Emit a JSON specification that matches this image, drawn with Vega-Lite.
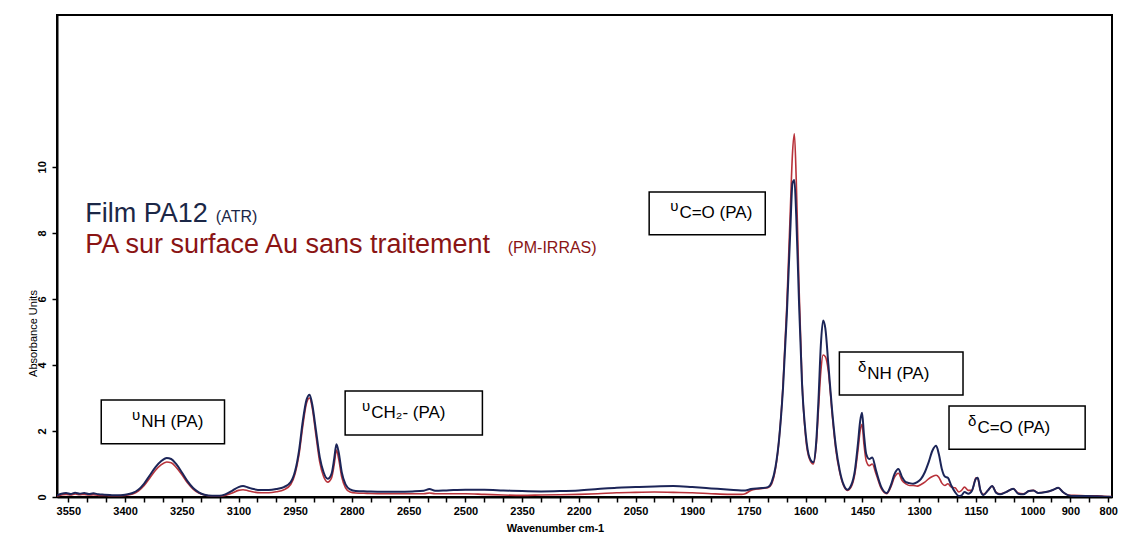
{
  "$schema": "https://vega.github.io/schema/vega-lite/v6.json",
  "width": 1055,
  "height": 482,
  "autosize": {"type": "none"},
  "padding": {"left": 57, "top": 15, "right": 13, "bottom": 38},
  "background": "white",
  "config": {
    "view": {"stroke": "black", "strokeWidth": 2},
    "axis": {"grid": false, "labelOverlap": false, "labelFlush": false, "domainColor": "black", "domainWidth": 2, "tickColor": "black", "tickWidth": 1.5, "tickSize": 5, "labelColor": "black", "titleColor": "black", "labelFont": "Liberation Sans", "titleFont": "Liberation Sans"}
  },
  "datasets": {
    "spec": [
      {"w":3580,"b":0.05,"r":0.03},{"w":3568,"b":0.10,"r":0.06},{"w":3556,"b":0.12,"r":0.08},{"w":3544,"b":0.09,"r":0.06},
      {"w":3532,"b":0.13,"r":0.09},{"w":3520,"b":0.10,"r":0.07},{"w":3508,"b":0.12,"r":0.08},{"w":3496,"b":0.09,"r":0.06},
      {"w":3484,"b":0.11,"r":0.07},{"w":3470,"b":0.08,"r":0.05},{"w":3455,"b":0.07,"r":0.05},{"w":3440,"b":0.06,"r":0.04},
      {"w":3420,"b":0.05,"r":0.04},{"w":3400,"b":0.07,"r":0.05},{"w":3380,"b":0.12,"r":0.09},{"w":3365,"b":0.22,"r":0.18},
      {"w":3350,"b":0.40,"r":0.34},{"w":3335,"b":0.65,"r":0.57},{"w":3320,"b":0.90,"r":0.80},{"w":3305,"b":1.08,"r":0.97},
      {"w":3290,"b":1.18,"r":1.06},{"w":3278,"b":1.15,"r":1.04},{"w":3265,"b":1.00,"r":0.90},{"w":3250,"b":0.75,"r":0.68},
      {"w":3235,"b":0.48,"r":0.43},{"w":3220,"b":0.27,"r":0.24},{"w":3205,"b":0.14,"r":0.12},{"w":3190,"b":0.07,"r":0.06},
      {"w":3170,"b":0.04,"r":0.03},{"w":3150,"b":0.04,"r":0.03},{"w":3135,"b":0.08,"r":0.05},{"w":3118,"b":0.18,"r":0.11},
      {"w":3100,"b":0.30,"r":0.20},{"w":3088,"b":0.33,"r":0.22},{"w":3075,"b":0.29,"r":0.19},{"w":3060,"b":0.24,"r":0.15},
      {"w":3040,"b":0.21,"r":0.13},{"w":3020,"b":0.21,"r":0.13},{"w":3000,"b":0.24,"r":0.16},{"w":2980,"b":0.30,"r":0.22},
      {"w":2962,"b":0.45,"r":0.38},{"w":2950,"b":0.80,"r":0.72},{"w":2940,"b":1.40,"r":1.28},{"w":2930,"b":2.30,"r":2.15},
      {"w":2920,"b":2.95,"r":2.85},{"w":2912,"b":3.10,"r":3.00},{"w":2905,"b":2.80,"r":2.70},{"w":2895,"b":2.00,"r":1.85},
      {"w":2885,"b":1.20,"r":1.05},{"w":2875,"b":0.75,"r":0.62},{"w":2864,"b":0.55,"r":0.45},{"w":2854,"b":0.70,"r":0.58},
      {"w":2847,"b":1.15,"r":0.98},{"w":2841,"b":1.60,"r":1.42},{"w":2835,"b":1.35,"r":1.15},{"w":2827,"b":0.75,"r":0.60},
      {"w":2817,"b":0.38,"r":0.28},{"w":2805,"b":0.23,"r":0.15},{"w":2790,"b":0.18,"r":0.12},{"w":2760,"b":0.17,"r":0.11},
      {"w":2720,"b":0.16,"r":0.10},{"w":2680,"b":0.16,"r":0.10},{"w":2640,"b":0.17,"r":0.10},{"w":2610,"b":0.19,"r":0.10},
      {"w":2595,"b":0.24,"r":0.12},{"w":2580,"b":0.19,"r":0.10},{"w":2550,"b":0.20,"r":0.10},{"w":2500,"b":0.22,"r":0.10},
      {"w":2450,"b":0.22,"r":0.08},{"w":2400,"b":0.20,"r":0.06},{"w":2350,"b":0.18,"r":0.05},{"w":2300,"b":0.17,"r":0.06},
      {"w":2250,"b":0.18,"r":0.07},{"w":2200,"b":0.20,"r":0.08},{"w":2150,"b":0.24,"r":0.10},{"w":2100,"b":0.28,"r":0.13},
      {"w":2050,"b":0.30,"r":0.14},{"w":2000,"b":0.32,"r":0.15},{"w":1950,"b":0.33,"r":0.14},{"w":1900,"b":0.30,"r":0.13},
      {"w":1850,"b":0.26,"r":0.10},{"w":1800,"b":0.22,"r":0.08},{"w":1770,"b":0.20,"r":0.08},{"w":1760,"b":0.20,"r":0.10},
      {"w":1745,"b":0.24,"r":0.20},{"w":1730,"b":0.26,"r":0.24},{"w":1715,"b":0.27,"r":0.26},{"w":1700,"b":0.30,"r":0.28},
      {"w":1690,"b":0.45,"r":0.40},{"w":1680,"b":0.90,"r":0.85},{"w":1670,"b":1.80,"r":1.80},{"w":1660,"b":3.30,"r":3.40},
      {"w":1650,"b":5.50,"r":5.80},{"w":1641,"b":8.00,"r":8.60},{"w":1635,"b":9.50,"r":10.40},{"w":1630,"b":9.60,"r":11.00},
      {"w":1625,"b":8.50,"r":9.60},{"w":1618,"b":6.00,"r":6.50},{"w":1610,"b":3.50,"r":3.60},{"w":1600,"b":1.90,"r":1.80},
      {"w":1590,"b":1.20,"r":1.15},{"w":1580,"b":1.05,"r":1.00},{"w":1572,"b":1.70,"r":1.60},{"w":1566,"b":3.00,"r":2.70},
      {"w":1560,"b":4.60,"r":3.80},{"w":1554,"b":5.35,"r":4.30},{"w":1548,"b":5.10,"r":4.25},{"w":1540,"b":4.00,"r":3.80},
      {"w":1530,"b":2.60,"r":2.50},{"w":1520,"b":1.50,"r":1.40},{"w":1510,"b":0.80,"r":0.75},{"w":1500,"b":0.38,"r":0.35},
      {"w":1490,"b":0.22,"r":0.20},{"w":1480,"b":0.35,"r":0.30},{"w":1470,"b":0.80,"r":0.70},{"w":1462,"b":1.60,"r":1.40},
      {"w":1456,"b":2.30,"r":2.00},{"w":1451,"b":2.55,"r":2.20},{"w":1446,"b":1.90,"r":1.60},{"w":1440,"b":1.30,"r":1.10},
      {"w":1432,"b":1.15,"r":0.95},{"w":1424,"b":1.20,"r":1.00},{"w":1414,"b":0.80,"r":0.70},{"w":1400,"b":0.30,"r":0.25},
      {"w":1386,"b":0.12,"r":0.10},{"w":1375,"b":0.35,"r":0.30},{"w":1365,"b":0.70,"r":0.60},{"w":1355,"b":0.85,"r":0.72},
      {"w":1345,"b":0.60,"r":0.50},{"w":1335,"b":0.45,"r":0.40},{"w":1325,"b":0.42,"r":0.35},{"w":1316,"b":0.40,"r":0.35},
      {"w":1305,"b":0.45,"r":0.33},{"w":1295,"b":0.55,"r":0.38},{"w":1285,"b":0.75,"r":0.45},{"w":1275,"b":1.05,"r":0.55},
      {"w":1265,"b":1.40,"r":0.62},{"w":1255,"b":1.55,"r":0.66},{"w":1248,"b":1.30,"r":0.60},{"w":1240,"b":0.85,"r":0.42},
      {"w":1232,"b":0.62,"r":0.35},{"w":1224,"b":0.58,"r":0.40},{"w":1215,"b":0.35,"r":0.30},{"w":1205,"b":0.15,"r":0.28},
      {"w":1195,"b":0.03,"r":0.15},{"w":1188,"b":0.05,"r":0.20},{"w":1180,"b":0.15,"r":0.30},{"w":1170,"b":0.10,"r":0.20},
      {"w":1160,"b":0.20,"r":0.20},{"w":1150,"b":0.55,"r":0.58},{"w":1145,"b":0.58,"r":0.55},{"w":1138,"b":0.20,"r":0.20},
      {"w":1130,"b":0.06,"r":0.08},{"w":1118,"b":0.20,"r":0.20},{"w":1107,"b":0.33,"r":0.33},{"w":1096,"b":0.12,"r":0.14},
      {"w":1086,"b":0.08,"r":0.10},{"w":1070,"b":0.15,"r":0.15},{"w":1051,"b":0.25,"r":0.25},{"w":1038,"b":0.10,"r":0.12},
      {"w":1025,"b":0.08,"r":0.10},{"w":1010,"b":0.18,"r":0.18},{"w":998,"b":0.20,"r":0.20},{"w":985,"b":0.12,"r":0.13},
      {"w":965,"b":0.15,"r":0.15},{"w":945,"b":0.22,"r":0.22},{"w":932,"b":0.28,"r":0.28},{"w":920,"b":0.15,"r":0.15},
      {"w":905,"b":0.05,"r":0.06},{"w":890,"b":0.03,"r":0.05},{"w":860,"b":0.03,"r":0.04},{"w":830,"b":0.02,"r":0.04},
      {"w":810,"b":0.01,"r":0.02},{"w":790,"b":0.00,"r":0.01}
    ],
    "boxes": [
      {"w":3463,"w2":3137,"v":2.94,"v2":1.61},
      {"w":2818,"w2":2455,"v":3.21,"v2":1.88},
      {"w":2014,"w2":1707,"v":9.24,"v2":7.94},
      {"w":1511,"w2":1184,"v":4.39,"v2":3.09},
      {"w":1221,"w2":861,"v":2.76,"v2":1.45}
    ],
    "boxtext": [
      {"w":3357,"v":2.27,"t":"NH (PA)","s":"υ"},
      {"w":2749,"v":2.55,"t":"CH₂- (PA)","s":"υ"},
      {"w":1934,"v":8.61,"t":"C=O (PA)","s":"υ"},
      {"w":1437,"v":3.73,"t":"NH (PA)","s":"δ"},
      {"w":1146,"v":2.09,"t":"C=O (PA)","s":"δ"}
    ],
    "legend_big": [
      {"w":3505,"v":8.33,"t":"Film PA12","c":"ATR"},
      {"w":3505,"v":7.39,"t":"PA sur surface Au sans traitement","c":"PM"}
    ],
    "legend_small": [
      {"w":3160,"v":8.33,"t":"(ATR)","c":"ATR"},
      {"w":2388,"v":7.39,"t":"(PM-IRRAS)","c":"PM"}
    ]
  },
  "encoding": {
    "x": {"field": "w", "type": "quantitative", "title": "Wavenumber cm-1", "scale": {"domain": [790, 3580], "reverse": true, "nice": false, "zero": false},
      "axis": {"values": [800,850,900,950,1000,1050,1100,1150,1200,1250,1300,1350,1400,1450,1500,1550,1600,1650,1700,1750,1800,1850,1900,1950,2000,2050,2100,2150,2200,2250,2300,2350,2400,2450,2500,2550,2600,2650,2700,2750,2800,2850,2900,2950,3000,3050,3100,3150,3200,3250,3300,3350,3400,3450,3500,3550],
        "format": "d",
        "labelExpr": "((3550 - datum.value) % 150 == 0 && datum.value >= 1000) || datum.value == 900 || datum.value == 800 ? datum.label : ''",
        "labelOverlap": false, "labelFlush": false, "labelFontSize": 11, "labelFontWeight": "bold", "labelPadding": 3,
        "titleFontSize": 11, "titleFontWeight": "bold", "titleX": 498, "titleY": 34, "titleBaseline": "alphabetic", "titleAlign": "center"}},
    "y": {"field": "v", "type": "quantitative", "title": "Absorbance Units", "scale": {"domain": [0, 14.6], "nice": false, "zero": false},
      "axis": {"values": [0,2,4,6,8,10], "labelAngle": 270, "labelFontSize": 11, "labelFontWeight": "bold", "labelPadding": 5,
        "titleFontSize": 11, "titleFontWeight": "normal", "titleX": -24, "titleY": 318, "titleAngle": 270, "titleAlign": "center", "titleBaseline": "middle"}}
  },
  "layer": [
    {
      "data": {"name": "spec"},
      "transform": [{"fold": ["r"], "as": ["s", "v"]}],
      "mark": {"type": "line", "color": "#b8323a", "strokeWidth": 1.6, "interpolate": "monotone", "clip": true}
    },
    {
      "data": {"name": "spec"},
      "transform": [{"fold": ["b"], "as": ["s", "v"]}],
      "mark": {"type": "line", "color": "#1c2558", "strokeWidth": 2, "interpolate": "monotone", "clip": true}
    },
    {
      "data": {"name": "boxes"},
      "mark": {"type": "rect", "fill": "white", "stroke": "black", "strokeWidth": 1.5},
      "encoding": {
        "x2": {"field": "w2"},
        "y2": {"field": "v2"}
      }
    },
    {
      "data": {"name": "boxtext"},
      "mark": {"type": "text", "align": "left", "baseline": "middle", "font": "Liberation Sans", "fontSize": 17, "color": "black"},
      "encoding": {"text": {"field": "t"}}
    },
    {
      "data": {"name": "boxtext"},
      "mark": {"type": "text", "align": "right", "baseline": "middle", "font": "Liberation Sans", "fontSize": 15, "dx": -1, "dy": -7, "color": "black"},
      "encoding": {"text": {"field": "s"}}
    },
    {
      "data": {"name": "legend_big"},
      "mark": {"type": "text", "align": "left", "baseline": "alphabetic", "font": "Liberation Sans", "fontSize": 27},
      "encoding": {
        "text": {"field": "t"},
        "color": {"field": "c", "type": "nominal", "scale": {"domain": ["ATR", "PM"], "range": ["#1b2747", "#8a1414"]}, "legend": null}
      }
    },
    {
      "data": {"name": "legend_small"},
      "mark": {"type": "text", "align": "left", "baseline": "alphabetic", "font": "Liberation Sans", "fontSize": 16},
      "encoding": {
        "text": {"field": "t"},
        "color": {"field": "c", "type": "nominal", "legend": null}
      }
    }
  ]
}
